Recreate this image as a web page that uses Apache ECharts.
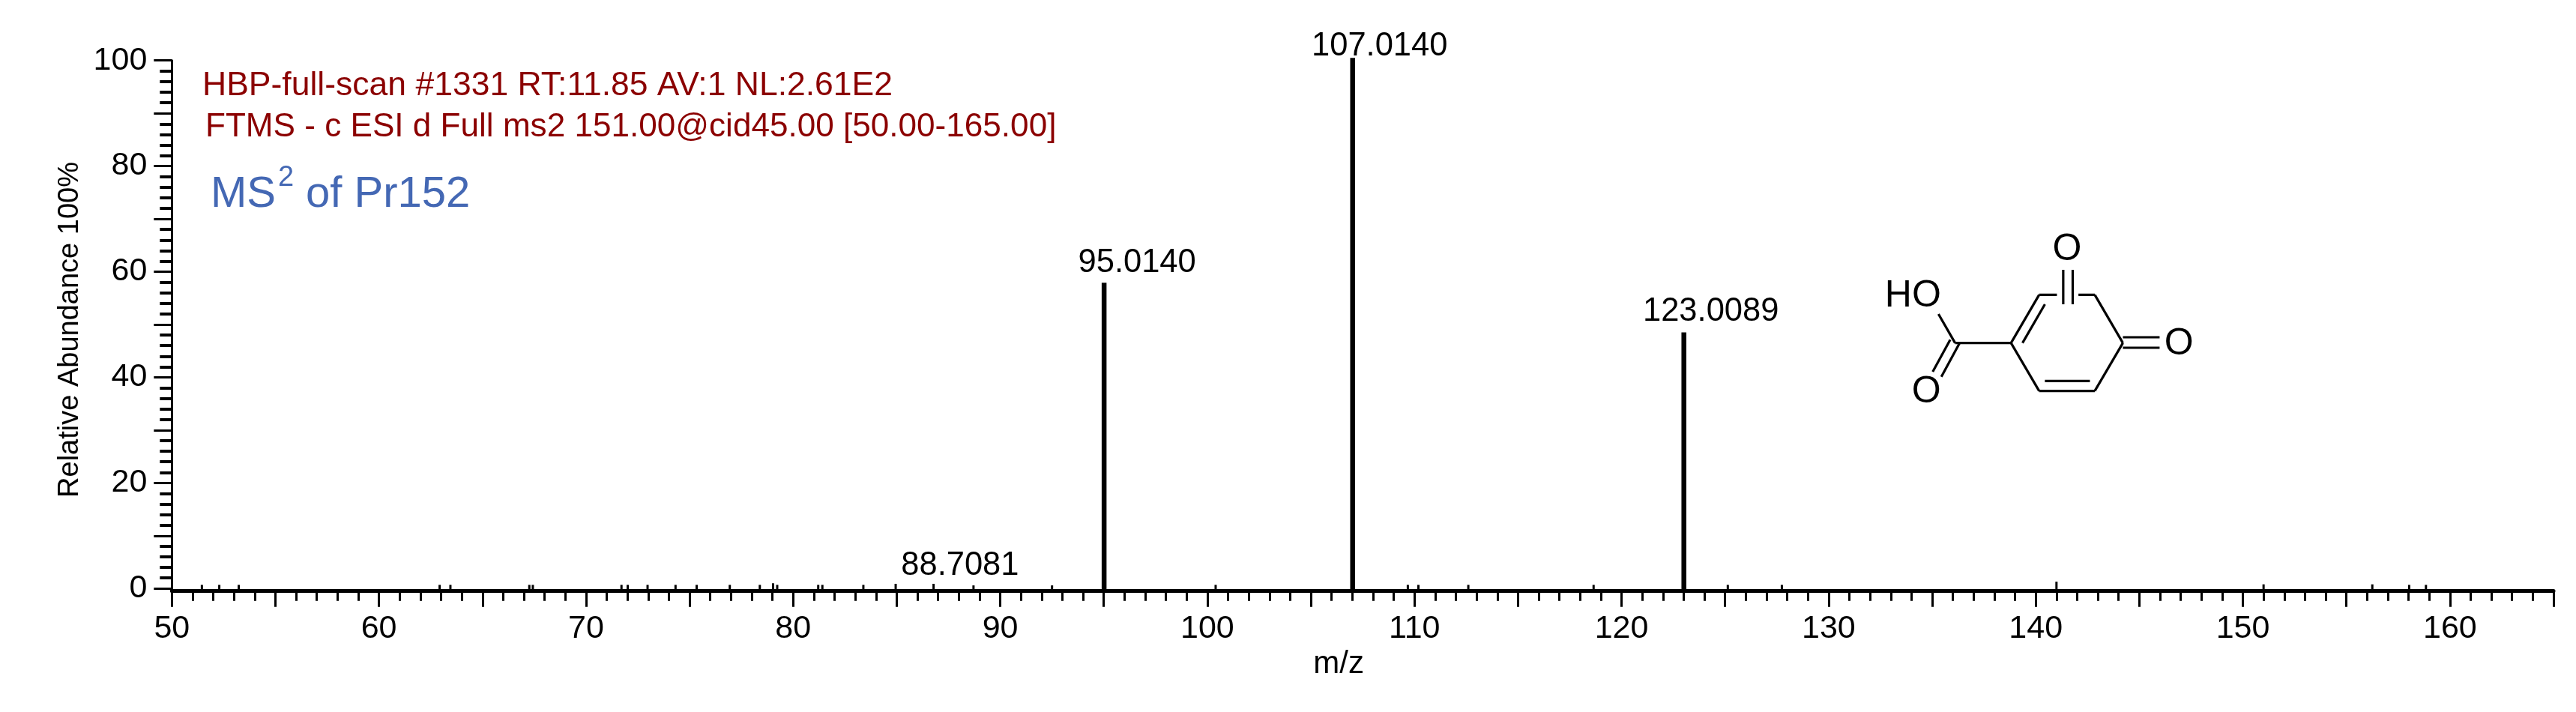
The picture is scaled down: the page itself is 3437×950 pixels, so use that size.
<!DOCTYPE html>
<html>
<head>
<meta charset="utf-8">
<style>html,body{margin:0;padding:0;background:#fff}#chart{width:3437px;height:950px}</style>
<script src="https://cdn.jsdelivr.net/npm/echarts@6/dist/echarts.min.js"></script>
</head>
<body>
<div id="chart"></div>
<script>
// Labelled peaks
const peakMz = [95.0140, 107.0140, 123.0089];
const peakAbundance = [57.9, 100.5, 48.5];
const peakLabels = ['95.0140', '107.0140', '123.0089'];

// Small noise peaks near the baseline
const noiseMz = [51.45, 52.29, 53.23, 62.93, 63.45, 67.26, 67.43, 71.71, 72.01, 72.97, 74.32, 75.34, 76.94, 78.39, 79.03, 79.23, 81.21, 81.41, 83.39, 84.95, 86.78, 88.7081, 92.5, 100.4, 109.68, 110.19, 112.6, 118.65, 125.13, 127.74, 141.0, 151.0, 156.25, 158.03, 158.84];
const noiseAbundance = [0.7, 0.7, 0.7, 0.7, 0.7, 0.7, 0.7, 0.7, 0.7, 0.7, 0.7, 0.7, 0.7, 0.7, 1.0, 0.7, 0.7, 0.7, 0.7, 0.9, 0.9, 0.6, 0.6, 0.7, 0.7, 0.7, 0.7, 0.7, 0.7, 0.7, 1.3, 0.8, 0.8, 0.7, 0.7];
const noiseLabelled = {88.7081: '88.7081'};

const FONT = '"Liberation Sans", Arial, sans-serif';
const labelShift = [[44, -26], [36, -15], [36, -28]];
const noiseLabelShift = [-18, -26];

// Inset chemical structure, drawn as annotation (reference-crop coordinates)
const bonds = [
  [740,533,838,340],[838,340,900,340],[975,340,1032,340],[1032,340,1130,533],
  [1130,533,1032,725],[1032,725,838,725],[838,725,740,533],
  [858,378,780,533],[858,685,1015,685],
  [922,240,922,378],[955,240,955,378],
  [1130,510,1258,510],[1130,552,1258,552],
  [740,533,545,533],[545,533,487,417],[528,520,467,648],[560,535,497,668]
];
const atoms = [['O',935,160],['HO',398,345],['O',445,730],['O',1325,538]];
const sx = z => 2400 + z / 2.613, sy = z => 280 + z / 3;

const graphic = [
  {type:'text', left:270, top:92, style:{text:'HBP-full-scan #1331 RT:11.85 AV:1 NL:2.61E2', fontFamily:FONT, fontSize:44.5, fill:'#8b0000'}},
  {type:'text', left:274, top:148, style:{text:'FTMS - c ESI d Full ms2 151.00@cid45.00 [50.00-165.00]', fontFamily:FONT, fontSize:44.1, fill:'#8b0000'}},
  {type:'text', left:281, top:231, style:{text:'MS', fontFamily:FONT, fontSize:58, fill:'#4468b4'}},
  {type:'text', left:371, top:219, style:{text:'2', fontFamily:FONT, fontSize:38, fill:'#4468b4'}},
  {type:'text', left:408, top:231, style:{text:'of Pr152', fontFamily:FONT, fontSize:58, fill:'#4468b4'}}
];
bonds.forEach(b => graphic.push({type:'line', silent:true, shape:{x1:sx(b[0]),y1:sy(b[1]),x2:sx(b[2]),y2:sy(b[3])}, style:{stroke:'#000', lineWidth:3.2}}));
atoms.forEach(a => graphic.push({type:'text', x:sx(a[1]), y:sy(a[2]), silent:true, style:{text:a[0], fontFamily:FONT, fontSize:50, fill:'#000', align:'center', verticalAlign:'middle'}}));

function stick(width, textOf, shiftOf) {
  return function (params, api) {
    const x = api.value(0), y = api.value(1);
    const base = api.coord([x, 0]), top = api.coord([x, y]);
    const kids = [{type:'line', shape:{x1:base[0],y1:base[1]+3,x2:top[0],y2:top[1]}, style:{stroke:'#000', lineWidth:width}}];
    const t = textOf(params.dataIndex, x);
    if (t) {
      const s = shiftOf(params.dataIndex);
      kids.push({type:'text', x:top[0]+s[0], y:top[1]+s[1], style:{text:t, fontFamily:FONT, fontSize:43.5, fill:'#000', align:'center', verticalAlign:'middle'}});
    }
    return {type:'group', children:kids};
  };
}

const chart = echarts.init(document.getElementById('chart'), null, {renderer:'canvas'});
chart.setOption({
  animation:false,
  backgroundColor:'#fff',
  grid:{left:229.3, right:30, top:80.7, bottom:164.7},
  xAxis:{
    type:'value', min:50, max:165, interval:5, offset:2.5,
    name:'m/z', nameLocation:'middle', nameGap:58,
    nameTextStyle:{fontFamily:FONT, fontSize:42, color:'#000', padding:[0,64,0,0]},
    axisLine:{onZero:false, lineStyle:{color:'#000', width:5}},
    axisTick:{length:22, lineStyle:{color:'#000', width:3}},
    minorTick:{show:true, splitNumber:5, length:14, lineStyle:{color:'#000', width:3}},
    splitLine:{show:false}, minorSplitLine:{show:false},
    axisLabel:{margin:30, fontFamily:FONT, fontSize:43, color:'#000', showMinLabel:true, showMaxLabel:false,
      formatter:v => v % 10 === 0 ? String(v) : ''}
  },
  yAxis:{
    type:'value', min:0, max:100, interval:10,
    name:'Relative Abundance 100%', nameLocation:'middle', nameGap:117, nameRotate:90,
    nameTextStyle:{fontFamily:FONT, fontSize:38, color:'#000', padding:[0,14,0,0]},
    axisLine:{show:true, lineStyle:{color:'#000', width:3}},
    axisTick:{show:true, length:24, lineStyle:{color:'#000', width:3}},
    minorTick:{show:true, splitNumber:5, length:16, lineStyle:{color:'#000', width:4}},
    splitLine:{show:false}, minorSplitLine:{show:false},
    axisLabel:{margin:33, fontFamily:FONT, fontSize:43, color:'#000',
      formatter:v => v % 20 === 0 ? String(v) : ''}
  },
  graphic:graphic,
  series:[
    {type:'custom', name:'noise', silent:true, clip:false, encode:{x:0,y:1},
      data:noiseMz.map((m,i)=>[m,noiseAbundance[i]]),
      renderItem:stick(3, (i,x)=>noiseLabelled[x], ()=>noiseLabelShift)},
    {type:'custom', name:'peaks', silent:true, clip:false, encode:{x:0,y:1},
      data:peakMz.map((m,i)=>[m,peakAbundance[i]]),
      renderItem:stick(6.5, i=>peakLabels[i], i=>labelShift[i])}
  ]
});
</script>
</body>
</html>
